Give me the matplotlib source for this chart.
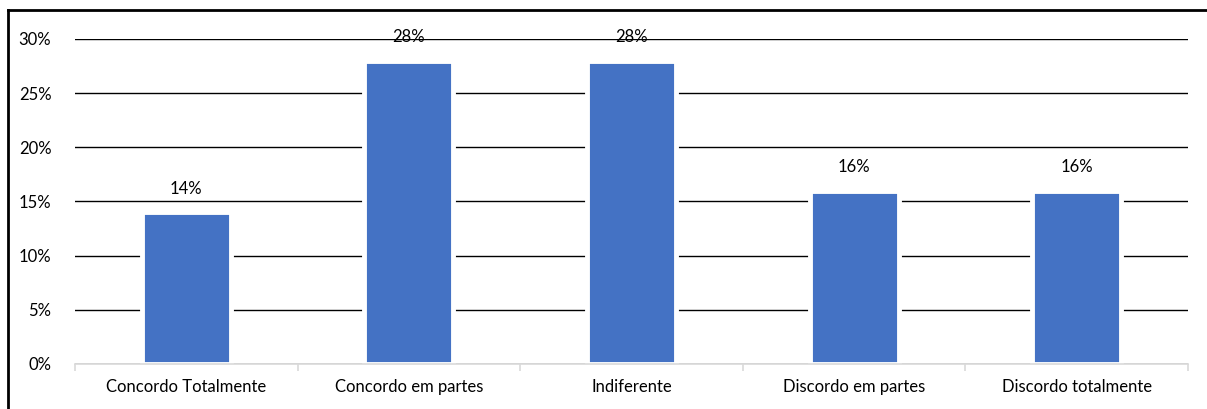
import matplotlib
matplotlib.use("Agg")
import matplotlib.pyplot as plt
from matplotlib.lines import Line2D
from matplotlib.ticker import FuncFormatter

categories = ["Concordo Totalmente", "Concordo em partes", "Indiferente",
              "Discordo em partes", "Discordo totalmente"]
values = [0.14, 0.28, 0.28, 0.16, 0.16]
value_labels = ["14%", "28%", "28%", "16%", "16%"]
yticks = [0, 0.05, 0.10, 0.15, 0.20, 0.25, 0.30]

plt.rcParams['font.family'] = ['Lato', 'DejaVu Sans']
FS = 12

W, H = 1207, 409
fig = plt.figure(figsize=(W / 100, H / 100), dpi=100)
ax = fig.add_axes([75 / W, (H - 364) / H, (1188 - 75) / W, (364 - 39) / H])

x = list(range(len(categories)))
ax.set_axisbelow(True)
bars = ax.bar(x, values, width=0.40, color="#4472C4", edgecolor="white",
              linewidth=3.5, zorder=2)
for xi, v, lab in zip(x, values, value_labels):
    ax.annotate(lab, (xi, v), xytext=(0, 17), textcoords="offset points",
                ha="center", va="center", fontsize=FS, color="#000000")

ax.set_xlim(-0.5, len(categories) - 0.5)
ax.set_ylim(0, 0.30)
ax.set_yticks(yticks)
ax.yaxis.set_major_formatter(FuncFormatter(lambda v, p: f"{round(v * 100)}%"))
ax.yaxis.grid(True, color="black", linewidth=1.0)
ax.tick_params(axis="y", length=0, pad=17, labelsize=FS)
for s in ["top", "right", "left"]:
    ax.spines[s].set_visible(False)
ax.spines["bottom"].set_color("#D9D9D9")
ax.spines["bottom"].set_linewidth(1.2)
ax.set_xticks(x)
ax.set_xticklabels(categories, fontsize=FS)
ax.tick_params(axis="x", length=0, pad=11)
ax.set_xticks([i - 0.5 for i in range(len(categories) + 1)], minor=True)
ax.tick_params(axis="x", which="minor", length=5, color="#D9D9D9", width=1.2)

# outer frame (top and left visible)
fig.add_artist(Line2D([8 / W, 1], [1 - 10 / H, 1 - 10 / H], color="black",
                      linewidth=2, transform=fig.transFigure))
fig.add_artist(Line2D([8 / W, 8 / W], [0, 1 - 10 / H], color="black",
                      linewidth=2, transform=fig.transFigure))

fig.savefig("out.png", dpi=100, facecolor="white")
